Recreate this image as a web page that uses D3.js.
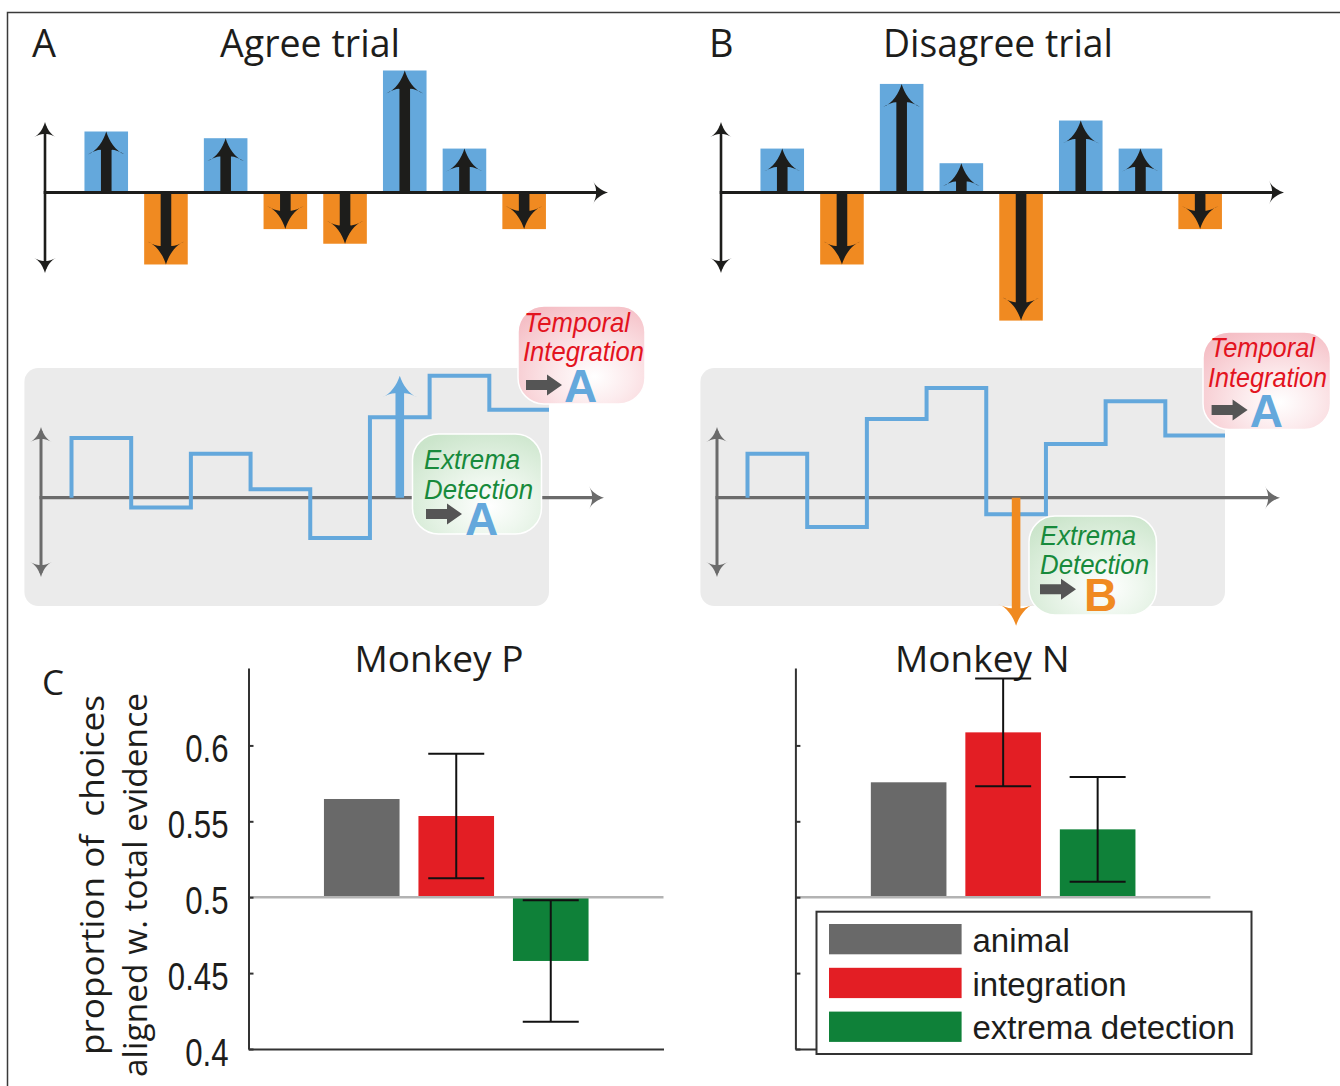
<!DOCTYPE html>
<html>
<head>
<meta charset="utf-8">
<script src="https://cdn.jsdelivr.net/npm/d3@7"></script>
<style>
  html, body { margin: 0; padding: 0; background: #fff; }
  svg { display: block; }
</style>
</head>
<body>
<svg id="fig" width="1340" height="1086"></svg>
<script>
// ---------------- data ----------------
const pulseIndex = [1, 2, 3, 4, 5, 6, 7, 8];
// momentary evidence of each pulse (arbitrary units, + favours A)
const agreePulses    = [5.0, -5.9, 4.45, -3.0, -4.2, 10.0, 3.6, -3.0];
const disagreePulses = [3.6, -5.9, 8.9, 2.4, -10.5, 5.9, 3.6, -3.0];
// accumulated evidence after each pulse
const agreeTrace    = [4.9, -0.8, 3.6, 0.7, -3.3, 6.6, 10.0, 7.2];
const disagreeTrace = [3.6, -2.4, 6.45, 9.0, -1.35, 4.4, 7.9, 5.1];
const trialTitles   = ["Agree trial", "Disagree trial"];
const panelLetters  = ["A", "B"];
const integrationChoice = ["A", "A"];
const extremaChoice     = ["A", "B"];

const models      = ["animal", "integration", "extrema detection"];
const monkeyNames = ["Monkey P", "Monkey N"];
const monkeyP     = [0.5647, 0.5535, 0.458];
const monkeyPErr  = [0, 0.041, 0.040];
const monkeyN     = [0.5757, 0.6086, 0.5447];
const monkeyNErr  = [0, 0.0355, 0.0345];
const propTicks   = [0.4, 0.45, 0.5, 0.55, 0.6];
const yLabelLines = ["proportion of  choices", "aligned w. total evidence"];

// ---------------- style ----------------
const ink = "#1d1d1b";
const blue = "#64a8dc";
const orange = "#f08a21";
const boxGray = "#ebebeb";
const axisGray = "#6b6b6b";
const modelColors = ["#696969", "#e31e24", "#0f8139"];
const choiceColor = { A: blue, B: orange };
const titleFont = "'Open Sans', 'Noto Sans', sans-serif";
const plotFont = "'Liberation Sans', Arial, sans-serif";

const svg = d3.select("#fig");

// gradients for the model annotation bubbles
const defs = svg.append("defs");
function bubbleGradient(id, mid, edge) {
  const gr = defs.append("radialGradient").attr("id", id)
    .attr("cx", "0.6").attr("cy", "0.72").attr("r", "0.8");
  gr.append("stop").attr("offset", "0").attr("stop-color", "#ffffff");
  gr.append("stop").attr("offset", "0.35").attr("stop-color", mid);
  gr.append("stop").attr("offset", "1").attr("stop-color", edge);
}
bubbleGradient("gradPink", "#fcebed", "#f5bec5");
bubbleGradient("gradGreen", "#eef7ee", "#cbe5cb");

// outer frame
svg.append("path").attr("d", "M7.5,1086V12.5H1340")
  .attr("fill", "none").attr("stroke", "#3a3a3a").attr("stroke-width", 1.5);

// swept arrow pointing up, tip at origin, total length len
function arrowPath(len, L, hw, sw) {
  const j = L * 0.8;
  const e = Math.max(len, j);
  return [
    "M0,0",
    `C${hw * 0.15},${L * 0.4} ${hw * 0.5},${L * 0.85} ${hw},${L}`,
    `Q${sw + (hw - sw) * 0.3},${L * 0.78} ${sw},${j}`,
    `L${sw},${e}`, `L${-sw},${e}`, `L${-sw},${j}`,
    `Q${-sw - (hw - sw) * 0.3},${L * 0.78} ${-hw},${L}`,
    `C${-hw * 0.5},${L * 0.85} ${-hw * 0.15},${L * 0.4} 0,0`, "Z"
  ].join(" ");
}
function drawArrow(g, x, y, angle, len, L, hw, sw, fill) {
  g.append("path").attr("d", arrowPath(len, L, hw, sw))
    .attr("transform", `translate(${x},${y}) rotate(${angle})`)
    .attr("fill", fill);
}
// axis with arrow heads: vertical double-headed + horizontal to the right
function arrowAxes(g, x, yTop, yBot, yAxis, xEnd, color, widthV, widthH) {
  g.append("line").attr("x1", x).attr("x2", x).attr("y1", yTop + 4).attr("y2", yBot - 4)
    .attr("stroke", color).attr("stroke-width", widthV);
  drawArrow(g, x, yTop, 0, 0, 15, 11, widthV / 2, color);
  drawArrow(g, x, yBot, 180, 0, 15, 11, widthV / 2, color);
  g.append("line").attr("x1", x - widthV / 2).attr("x2", xEnd - 4).attr("y1", yAxis).attr("y2", yAxis)
    .attr("stroke", color).attr("stroke-width", widthH);
  drawArrow(g, xEnd, yAxis, 90, 0, 15, 12, widthH / 2, color);
}

// ---------------- panels A and B ----------------
const trials = [
  { dx: 0, pulses: agreePulses, trace: agreeTrace,
    integ: { box: [518, 306, 127, 98], l1: [524, 331.7], l2: [523, 360.7], arrow: [526, 385], letter: [564, 401.7], w: [106, 121] },
    extr:  { box: [412.5, 434, 129, 100], l1: [424, 469], l2: [424, 499], arrow: [426, 514], letter: [465, 535], w: [96, 109] } },
  { dx: 676, pulses: disagreePulses, trace: disagreeTrace,
    integ: { box: [1203, 332, 127.5, 97.5], l1: [1210, 357.3], l2: [1208, 386.7], arrow: [1211.6, 410], letter: [1249.7, 426.7], w: [105, 119] },
    extr:  { box: [1029, 516, 127.4, 99], l1: [1040, 545], l2: [1040, 574], arrow: [1040, 589.3], letter: [1084, 610.7], w: [96, 109] } }
];

const topAxisY = 192.5;
const evid = d3.scaleLinear().domain([-10, 10]).range([topAxisY + 122, topAxisY - 122]);
const boxAxisY = 497.7;
const accum = d3.scaleLinear().domain([-10, 10]).range([boxAxisY + 122, boxAxisY - 122]);

function blockArrow(g, x, y) {
  const p = d3.path();
  p.moveTo(x, y - 5); p.lineTo(x + 21, y - 5); p.lineTo(x + 21, y - 10.5);
  p.lineTo(x + 36, y); p.lineTo(x + 21, y + 10.5); p.lineTo(x + 21, y + 5);
  p.lineTo(x, y + 5); p.closePath();
  g.append("path").attr("d", p.toString()).attr("fill", "#555555");
}

function bubble(g, spec, grad, words, textColor, letter) {
  const [bx, by, bw, bh] = spec.box;
  g.append("rect").attr("x", bx).attr("y", by).attr("width", bw).attr("height", bh)
    .attr("rx", 26).attr("fill", `url(#${grad})`)
    .attr("stroke", "#ffffff").attr("stroke-width", 1.5);
  [spec.l1, spec.l2].forEach((pos, k) => {
    g.append("text").attr("x", pos[0]).attr("y", pos[1])
      .attr("font-family", plotFont).attr("font-style", "italic")
      .attr("font-size", 28).attr("fill", textColor)
      .attr("textLength", spec.w[k]).attr("lengthAdjust", "spacingAndGlyphs")
      .text(words[k]);
  });
  blockArrow(g, spec.arrow[0], spec.arrow[1]);
  g.append("text").attr("x", spec.letter[0]).attr("y", spec.letter[1])
    .attr("font-family", plotFont).attr("font-weight", "bold")
    .attr("font-size", 46).attr("fill", choiceColor[letter]).text(letter);
}

trials.forEach((t, ti) => {
  const dx = t.dx;
  const g = svg.append("g");

  g.append("text").attr("x", ti === 0 ? 32 : 709).attr("y", 57)
    .attr("font-family", titleFont).attr("font-size", 38).attr("fill", ink)
    .text(panelLetters[ti]);
  g.append("text").attr("x", (ti === 0 ? 220 : 883)).attr("y", 57)
    .attr("font-family", titleFont).attr("font-size", 38).attr("fill", ink)
    .attr("textLength", ti === 0 ? 180 : 230).attr("lengthAdjust", "spacingAndGlyphs")
    .text(trialTitles[ti]);

  // pulses
  const xb = d3.scaleBand().domain(pulseIndex)
    .range([76.4 + dx, 554 + dx]).paddingInner(0.27).paddingOuter(0.135);
  g.selectAll("rect.pulse").data(t.pulses).join("rect").attr("class", "pulse")
    .attr("x", (d, i) => xb(pulseIndex[i]))
    .attr("width", xb.bandwidth())
    .attr("y", d => Math.min(evid(d), evid(0)))
    .attr("height", d => Math.abs(evid(d) - evid(0)))
    .attr("fill", d => d > 0 ? blue : orange);

  arrowAxes(g, 45 + dx, 122, 273, topAxisY, 608 + dx, ink, 2.6, 3.2);

  t.pulses.forEach((d, i) => {
    const cx = xb(pulseIndex[i]) + xb.bandwidth() / 2;
    drawArrow(g, cx, evid(d), d > 0 ? 0 : 180, Math.abs(evid(d) - evid(0)), 23, 18.5, 5.3, ink);
  });

  // accumulated evidence
  g.append("rect").attr("x", 24.4 + dx).attr("y", 368).attr("width", 524.6).attr("height", 238)
    .attr("rx", 14).attr("fill", boxGray);
  arrowAxes(g, 41 + dx, 427, 577, boxAxisY, 604 + dx, axisGray, 3, 3.2);

  const xs = d3.scaleLinear().domain([0, 8]).range([71.5 + dx, 549 + dx]);
  const pts = [[0, 0]].concat(t.trace.map((v, i) => [i, v])).concat([[8, t.trace[7]]]);
  const line = d3.line().x(d => xs(d[0])).y(d => accum(d[1])).curve(d3.curveStepAfter);
  g.append("path").attr("d", line(pts)).attr("fill", "none")
    .attr("stroke", blue).attr("stroke-width", 4).attr("stroke-linejoin", "miter");

  // largest single pulse, as seen by extrema detection
  const k = d3.maxIndex(t.pulses, d => Math.abs(d));
  const ev = t.pulses[k];
  drawArrow(g, xs(k + 0.5), accum(ev), ev > 0 ? 0 : 180, Math.abs(accum(ev) - accum(0)), 22, 18.5, 4.3,
    ev > 0 ? blue : orange);

  bubble(g, t.integ, "gradPink", ["Temporal", "Integration"], "#e3131e", integrationChoice[ti]);
  bubble(g, t.extr, "gradGreen", ["Extrema", "Detection"], "#178a3b", extremaChoice[ti]);
});

// ---------------- panel C ----------------
const cTop = 668, cBot = 1049;
const yProp = d3.scaleLinear().domain([0.4, 0.651]).range([cBot, cTop]);
const monkeyX0 = [248.5, 795.4];
const axisW = 415;
const monkeyData = [[monkeyP, monkeyPErr], [monkeyN, monkeyNErr]];

svg.append("text").attr("x", 42).attr("y", 695)
  .attr("font-family", titleFont).attr("font-size", 35).attr("fill", ink).text("C");

// two-line y label
[[104, 875, 360], [147, 885, 384]].forEach((p, i) => {
  svg.append("text")
    .attr("transform", `translate(${p[0]},${p[1]}) rotate(-90)`)
    .attr("text-anchor", "middle")
    .attr("font-family", titleFont).attr("font-size", 33).attr("fill", ink)
    .attr("textLength", p[2]).attr("lengthAdjust", "spacingAndGlyphs")
    .style("white-space", "pre")
    .text(yLabelLines[i]);
});

monkeyData.forEach(([vals, errs], mi) => {
  const x0 = monkeyX0[mi];
  const g = svg.append("g");
  const xb = d3.scaleBand().domain(models).range([x0 + 66, x0 + 349.5])
    .paddingInner(0.2).paddingOuter(0.1);

  g.append("text").attr("x", mi === 0 ? 439 : 982.3).attr("y", 672)
    .attr("text-anchor", "middle")
    .attr("font-family", titleFont).attr("font-size", 37).attr("fill", ink)
    .text(monkeyNames[mi]);

  g.selectAll("rect.bar").data(vals).join("rect").attr("class", "bar")
    .attr("x", (d, i) => xb(models[i]))
    .attr("width", xb.bandwidth())
    .attr("y", d => Math.min(yProp(d), yProp(0.5)))
    .attr("height", d => Math.abs(yProp(d) - yProp(0.5)))
    .attr("fill", (d, i) => modelColors[i]);

  // baseline at chance
  g.append("line").attr("x1", x0).attr("x2", x0 + axisW)
    .attr("y1", yProp(0.5)).attr("y2", yProp(0.5))
    .attr("stroke", "#b3b3b3").attr("stroke-width", 2.5);

  // error bars
  vals.forEach((v, i) => {
    if (!errs[i]) return;
    const cx = xb(models[i]) + xb.bandwidth() / 2;
    const eg = g.append("g").attr("stroke", "#111").attr("stroke-width", 2);
    eg.append("line").attr("x1", cx).attr("x2", cx)
      .attr("y1", yProp(v + errs[i])).attr("y2", yProp(v - errs[i]));
    [v + errs[i], v - errs[i]].forEach(e => {
      eg.append("line").attr("x1", cx - 28).attr("x2", cx + 28)
        .attr("y1", yProp(e)).attr("y2", yProp(e));
    });
  });

  // axes
  const xAxisScale = d3.scaleLinear().domain([0, 1]).range([x0, x0 + axisW]);
  const ax = g.append("g").attr("transform", `translate(0,${cBot})`)
    .call(d3.axisBottom(xAxisScale).tickValues([]).tickSizeOuter(0));
  const ay = g.append("g").attr("transform", `translate(${x0},0)`)
    .call(d3.axisLeft(yProp).tickValues(propTicks).tickSizeInner(-5).tickSizeOuter(0)
      .tickPadding(20).tickFormat(mi === 0 ? d3.format("") : () => ""));
  [ax, ay].forEach(a => {
    a.select(".domain").attr("stroke", "#333").attr("stroke-width", 2);
    a.selectAll(".tick line").attr("stroke", "#333").attr("stroke-width", 2);
  });
  ay.selectAll(".tick text")
    .attr("font-family", plotFont).attr("font-size", 38).attr("fill", ink)
    .attr("dy", "0.43em")
    .each(function () {
      const w = this.getComputedTextLength();
      if (w > 0) {
        this.setAttribute("textLength", w * 0.82);
        this.setAttribute("lengthAdjust", "spacingAndGlyphs");
      }
    });
});

// legend
const lg = svg.append("g");
lg.append("rect").attr("x", 816.5).attr("y", 911.7).attr("width", 435).attr("height", 142.3)
  .attr("fill", "#fff").attr("stroke", "#333").attr("stroke-width", 2);
models.forEach((m, i) => {
  const y = 924 + i * 43.8;
  lg.append("rect").attr("x", 829).attr("y", y).attr("width", 132.6).attr("height", 30.3)
    .attr("fill", modelColors[i]);
  lg.append("text").attr("x", 972.5).attr("y", y + 27.7)
    .attr("font-family", plotFont).attr("font-size", 33).attr("fill", ink).text(m);
});
</script>
</body>
</html>
